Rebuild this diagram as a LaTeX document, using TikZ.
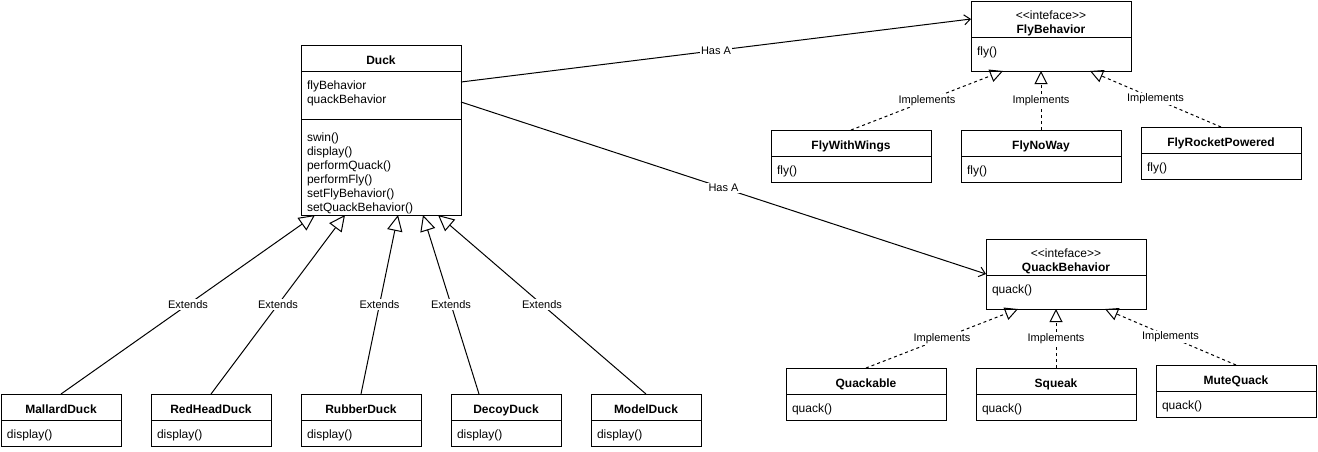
\documentclass[tikz,border=0pt]{standalone}
\usepackage{fontspec}
\setmainfont{Liberation Sans}
\usetikzlibrary{positioning,calc,arrows.meta}
\newcommand\umlfont{\fontsize{9pt}{10.5pt}\selectfont}
\newcommand\lblfont{\fontsize{8.25pt}{9pt}\selectfont}
\newcommand\stereo[1]{\textless\kern0pt\textless #1\textgreater\kern0pt\textgreater}
\tikzset{
	classhead/.style={draw, font=\umlfont\bfseries, text width=#1, align=center, inner sep=0pt, outer sep=0pt, text height=14.5pt, text depth=5pt, anchor=north west},
	ifacehead/.style={classhead=#1, font=\umlfont, text height=13.9pt, text depth=13.1pt},
	classbody/.style 2 args={draw, font=\umlfont, align=left, text width=#1, text height=13.7pt, text depth=#2, inner xsep=4.5pt, inner ysep=0pt, outer sep=0pt},
	lbl/.style={fill=white, inner sep=1pt, font=\lblfont},
	extends/.style={-{Triangle[open,length=12pt,width=11.5pt]}},
	implements/.style={-{Triangle[open,length=9.75pt,width=9.75pt]}, dash pattern=on 2.25pt off 2.25pt},
	hasa/.style={-{Straight Barb[length=4.5pt,width=7.5pt]}}
}
\begin{document}
\begin{tikzpicture}[x=0.75pt, y=-0.75pt, line width=0.75pt]
		\useasboundingbox (0,0) rectangle (1318,451);
		%Duck
		\node [classhead=120pt] (duck) at (301,45) {Duck};
		\node [classbody={111pt}{22.3pt}, below=0pt of duck] (duckattr) {flyBehavior\\quackBehavior};
		\node [classbody={111pt}{55.3pt}, text height=16.7pt, below=0pt of duckattr] (duckops) {swin()\\display()\\performQuack()\\performFly()\\setFlyBehavior()\\setQuackBehavior()};
		%interfaces
		\node [ifacehead=120pt] (flyb) at (971,1) {\stereo{inteface}\\\textbf{FlyBehavior}};
		\node [classbody={111pt}{11.8pt}, below=0pt of flyb] (flybody) {fly()};
		\node [ifacehead=120pt] (quackb) at (986,239) {\stereo{inteface}\\\textbf{QuackBehavior}};
		\node [classbody={111pt}{11.8pt}, below=0pt of quackb] (quackbody) {quack()};
		%fly
		\node [classhead=120pt] (wings) at (771,130) {FlyWithWings};
		\node [classbody={111pt}{5.8pt}, below=0pt of wings] (wingsbody) {fly()};
		\node [classhead=120pt] (noway) at (961,130) {FlyNoWay};
		\node [classbody={111pt}{5.8pt}, below=0pt of noway] (nowaybody) {fly()};
		\node [classhead=120pt] (rocket) at (1141,127) {FlyRocketPowered};
		\node [classbody={111pt}{5.8pt}, below=0pt of rocket] (rocketbody) {fly()};
		%quack
		\node [classhead=120pt] (quackable) at (786,368) {Quackable};
		\node [classbody={111pt}{5.8pt}, below=0pt of quackable] (quackablebody) {quack()};
		\node [classhead=120pt] (squeak) at (976,368) {Squeak};
		\node [classbody={111pt}{5.8pt}, below=0pt of squeak] (squeakbody) {quack()};
		\node [classhead=120pt] (mute) at (1156,365) {MuteQuack};
		\node [classbody={111pt}{5.8pt}, below=0pt of mute] (mutebody) {quack()};
		%ducks
		\node [classhead=90pt] (mallard) at (1,394) {MallardDuck};
		\node [classbody={81pt}{5.8pt}, below=0pt of mallard] (mallardbody) {display()};
		\node [classhead=90pt] (redhead) at (151,394) {RedHeadDuck};
		\node [classbody={81pt}{5.8pt}, below=0pt of redhead] (redheadbody) {display()};
		\node [classhead=90pt] (rubber) at (301,394) {RubberDuck};
		\node [classbody={81pt}{5.8pt}, below=0pt of rubber] (rubberbody) {display()};
		\node [classhead=82.5pt] (decoy) at (451,394) {DecoyDuck};
		\node [classbody={73.5pt}{5.8pt}, below=0pt of decoy] (decoybody) {display()};
		\node [classhead=82.5pt] (model) at (591,394) {ModelDuck};
		\node [classbody={73.5pt}{5.8pt}, below=0pt of model] (modelbody) {display()};
		%has a
		\draw [hasa] ($(duckattr.north east)+(0,11)$) -- (flyb.west) node [lbl, pos=0.5] {Has A};
		\draw [hasa] ($(duckattr.north east)+(0,31)$) -- ($(quackb.south west)+(0,-1)$) node [lbl, pos=0.5] {Has A};
		%extends
		\draw [extends] (mallard.north) -- ($(duckops.south west)+(14,0)$) node [lbl, pos=0.5] {Extends};
		\draw [extends] (redhead.north) -- ($(duckops.south west)+(44,0)$) node [lbl, pos=0.5] {Extends};
		\draw [extends] (rubber.north) -- ($(duckops.south west)+(97,0)$) node [lbl, pos=0.5] {Extends};
		\draw [extends] ($(decoy.north)+(-27,0)$) -- ($(duckops.south west)+(122,0)$) node [lbl, pos=0.5] {Extends};
		\draw [extends] (model.north) -- ($(duckops.south west)+(137,0)$) node [lbl, pos=0.5] {Extends};
		%implements
		\draw [implements] (wings.north) -- ($(flybody.south west)+(32,0)$) node [lbl, pos=0.5] {Implements};
		\draw [implements] (noway.north) -- ($(flybody.south west)+(70,0)$) node [lbl, pos=0.5] {Implements};
		\draw [implements] (rocket.north) -- ($(flybody.south west)+(119,0)$) node [lbl, pos=0.5] {Implements};
		\draw [implements] (quackable.north) -- ($(quackbody.south west)+(32,0)$) node [lbl, pos=0.5] {Implements};
		\draw [implements] (squeak.north) -- ($(quackbody.south west)+(70,0)$) node [lbl, pos=0.5] {Implements};
		\draw [implements] (mute.north) -- ($(quackbody.south west)+(119,0)$) node [lbl, pos=0.5] {Implements};
	\end{tikzpicture}
\end{document}
